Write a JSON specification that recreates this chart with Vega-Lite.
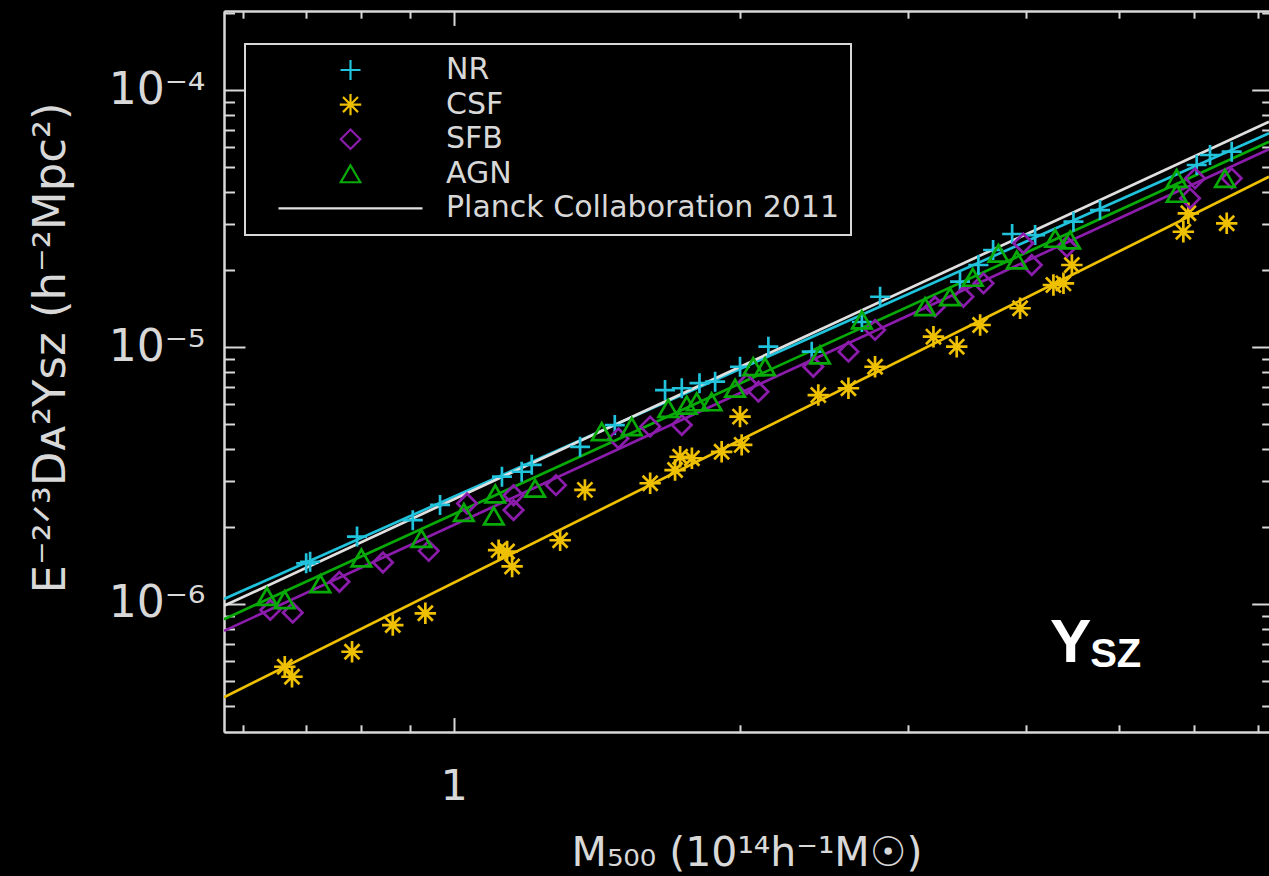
{
  "$schema": "https://vega.github.io/schema/vega-lite/v6.json",
  "width": 1045,
  "height": 721,
  "autosize": {"type": "none"},
  "padding": {"left": 224, "top": 11, "right": 0, "bottom": 144},
  "background": "#000000",
  "config": {
    "view": {"stroke": null},
    "font": "DejaVu Sans",
    "axis": {
      "grid": false,
      "domainColor": "#d8d8d8",
      "domainWidth": 2,
      "tickColor": "#d8d8d8",
      "tickWidth": 2,
      "labelColor": "#d8d8d8",
      "titleColor": "#d8d8d8",
      "labelFont": "DejaVu Sans",
      "titleFont": "DejaVu Sans",
      "titleFontWeight": "normal",
      "labelOverlap": false,
      "labelFlush": false
    },
    "legend": {
      "strokeWidth": 2
    }
  },
  "datasets": {
    "clusters": [
      {"series": "NR", "M": 0.6998, "Y": 1.44e-6},
      {"series": "NR", "M": 0.7065, "Y": 1.46e-6},
      {"series": "NR", "M": 0.7915, "Y": 1.83e-6},
      {"series": "NR", "M": 0.9058, "Y": 2.12e-6},
      {"series": "NR", "M": 0.9676, "Y": 2.43e-6},
      {"series": "NR", "M": 1.124, "Y": 3.13e-6},
      {"series": "NR", "M": 1.179, "Y": 3.27e-6},
      {"series": "NR", "M": 1.208, "Y": 3.48e-6},
      {"series": "NR", "M": 1.358, "Y": 4.09e-6},
      {"series": "NR", "M": 1.477, "Y": 4.97e-6},
      {"series": "NR", "M": 1.668, "Y": 6.80e-6},
      {"series": "NR", "M": 1.737, "Y": 6.91e-6},
      {"series": "NR", "M": 1.813, "Y": 7.23e-6},
      {"series": "NR", "M": 1.883, "Y": 7.33e-6},
      {"series": "NR", "M": 2.000, "Y": 8.38e-6},
      {"series": "NR", "M": 2.142, "Y": 1.003e-5},
      {"series": "NR", "M": 2.379, "Y": 9.59e-6},
      {"series": "NR", "M": 2.686, "Y": 1.251e-5},
      {"series": "NR", "M": 2.807, "Y": 1.569e-5},
      {"series": "NR", "M": 3.406, "Y": 1.795e-5},
      {"series": "NR", "M": 3.561, "Y": 2.085e-5},
      {"series": "NR", "M": 3.690, "Y": 2.385e-5},
      {"series": "NR", "M": 3.864, "Y": 2.753e-5},
      {"series": "NR", "M": 4.085, "Y": 2.727e-5},
      {"series": "NR", "M": 4.482, "Y": 3.073e-5},
      {"series": "NR", "M": 4.780, "Y": 3.412e-5},
      {"series": "NR", "M": 6.040, "Y": 5.107e-5},
      {"series": "NR", "M": 6.238, "Y": 5.586e-5},
      {"series": "NR", "M": 6.574, "Y": 5.754e-5},

      {"series": "CSF", "M": 0.6645, "Y": 5.70e-7},
      {"series": "CSF", "M": 0.6762, "Y": 5.21e-7},
      {"series": "CSF", "M": 0.7820, "Y": 6.52e-7},
      {"series": "CSF", "M": 0.8630, "Y": 8.28e-7},
      {"series": "CSF", "M": 0.9338, "Y": 9.20e-7},
      {"series": "CSF", "M": 1.115, "Y": 1.62e-6},
      {"series": "CSF", "M": 1.138, "Y": 1.60e-6},
      {"series": "CSF", "M": 1.152, "Y": 1.40e-6},
      {"series": "CSF", "M": 1.294, "Y": 1.77e-6},
      {"series": "CSF", "M": 1.374, "Y": 2.78e-6},
      {"series": "CSF", "M": 1.609, "Y": 2.95e-6},
      {"series": "CSF", "M": 1.709, "Y": 3.32e-6},
      {"series": "CSF", "M": 1.730, "Y": 3.74e-6},
      {"series": "CSF", "M": 1.780, "Y": 3.69e-6},
      {"series": "CSF", "M": 1.913, "Y": 3.91e-6},
      {"series": "CSF", "M": 2.008, "Y": 4.16e-6},
      {"series": "CSF", "M": 2.000, "Y": 5.36e-6},
      {"series": "CSF", "M": 2.417, "Y": 6.50e-6},
      {"series": "CSF", "M": 2.600, "Y": 6.91e-6},
      {"series": "CSF", "M": 2.773, "Y": 8.38e-6},
      {"series": "CSF", "M": 3.194, "Y": 1.097e-5},
      {"series": "CSF", "M": 3.379, "Y": 1.003e-5},
      {"series": "CSF", "M": 3.576, "Y": 1.218e-5},
      {"series": "CSF", "M": 3.939, "Y": 1.415e-5},
      {"series": "CSF", "M": 4.270, "Y": 1.743e-5},
      {"series": "CSF", "M": 4.375, "Y": 1.769e-5},
      {"series": "CSF", "M": 4.465, "Y": 2.085e-5},
      {"series": "CSF", "M": 5.848, "Y": 2.809e-5},
      {"series": "CSF", "M": 5.919, "Y": 3.313e-5},
      {"series": "CSF", "M": 6.495, "Y": 3.029e-5},

      {"series": "SFB", "M": 0.6416, "Y": 9.48e-7},
      {"series": "SFB", "M": 0.6774, "Y": 9.25e-7},
      {"series": "SFB", "M": 0.7585, "Y": 1.22e-6},
      {"series": "SFB", "M": 0.8427, "Y": 1.45e-6},
      {"series": "SFB", "M": 0.9415, "Y": 1.61e-6},
      {"series": "SFB", "M": 1.033, "Y": 2.46e-6},
      {"series": "SFB", "M": 1.156, "Y": 2.65e-6},
      {"series": "SFB", "M": 1.156, "Y": 2.32e-6},
      {"series": "SFB", "M": 1.281, "Y": 2.90e-6},
      {"series": "SFB", "M": 1.490, "Y": 4.41e-6},
      {"series": "SFB", "M": 1.609, "Y": 4.90e-6},
      {"series": "SFB", "M": 1.737, "Y": 4.97e-6},
      {"series": "SFB", "M": 2.033, "Y": 7.18e-6},
      {"series": "SFB", "M": 2.091, "Y": 6.70e-6},
      {"series": "SFB", "M": 2.388, "Y": 8.38e-6},
      {"series": "SFB", "M": 2.600, "Y": 9.59e-6},
      {"series": "SFB", "M": 2.773, "Y": 1.165e-5},
      {"series": "SFB", "M": 3.206, "Y": 1.435e-5},
      {"series": "SFB", "M": 3.434, "Y": 1.569e-5},
      {"series": "SFB", "M": 3.605, "Y": 1.769e-5},
      {"series": "SFB", "M": 3.970, "Y": 2.532e-5},
      {"series": "SFB", "M": 4.052, "Y": 2.085e-5},
      {"series": "SFB", "M": 4.411, "Y": 2.456e-5},
      {"series": "SFB", "M": 5.943, "Y": 3.789e-5},
      {"series": "SFB", "M": 6.016, "Y": 4.532e-5},
      {"series": "SFB", "M": 6.574, "Y": 4.532e-5},

      {"series": "AGN", "M": 0.6365, "Y": 1.07e-6},
      {"series": "AGN", "M": 0.6645, "Y": 1.04e-6},
      {"series": "AGN", "M": 0.7243, "Y": 1.20e-6},
      {"series": "AGN", "M": 0.7998, "Y": 1.51e-6},
      {"series": "AGN", "M": 0.9248, "Y": 1.80e-6},
      {"series": "AGN", "M": 1.025, "Y": 2.27e-6},
      {"series": "AGN", "M": 1.102, "Y": 2.20e-6},
      {"series": "AGN", "M": 1.106, "Y": 2.68e-6},
      {"series": "AGN", "M": 1.218, "Y": 2.82e-6},
      {"series": "AGN", "M": 1.431, "Y": 4.68e-6},
      {"series": "AGN", "M": 1.539, "Y": 4.90e-6},
      {"series": "AGN", "M": 1.681, "Y": 5.77e-6},
      {"series": "AGN", "M": 1.758, "Y": 5.94e-6},
      {"series": "AGN", "M": 1.801, "Y": 6.12e-6},
      {"series": "AGN", "M": 1.867, "Y": 6.12e-6},
      {"series": "AGN", "M": 1.976, "Y": 6.91e-6},
      {"series": "AGN", "M": 2.065, "Y": 8.38e-6},
      {"series": "AGN", "M": 2.125, "Y": 8.38e-6},
      {"series": "AGN", "M": 2.427, "Y": 9.31e-6},
      {"series": "AGN", "M": 2.686, "Y": 1.274e-5},
      {"series": "AGN", "M": 3.130, "Y": 1.435e-5},
      {"series": "AGN", "M": 3.325, "Y": 1.569e-5},
      {"series": "AGN", "M": 3.513, "Y": 1.867e-5},
      {"series": "AGN", "M": 3.738, "Y": 2.316e-5},
      {"series": "AGN", "M": 3.908, "Y": 2.181e-5},
      {"series": "AGN", "M": 4.288, "Y": 2.648e-5},
      {"series": "AGN", "M": 4.446, "Y": 2.608e-5},
      {"series": "AGN", "M": 5.754, "Y": 4.532e-5},
      {"series": "AGN", "M": 5.754, "Y": 3.963e-5},
      {"series": "AGN", "M": 6.468, "Y": 4.532e-5}
    ],
    "fits": [
      {"series": "NR", "M": 0.5736, "Y": 1.045e-6},
      {"series": "NR", "M": 7.195, "Y": 6.785e-5},
      {"series": "CSF", "M": 0.5736, "Y": 4.335e-7},
      {"series": "CSF", "M": 7.195, "Y": 4.60e-5},
      {"series": "SFB", "M": 0.5736, "Y": 7.86e-7},
      {"series": "SFB", "M": 7.195, "Y": 5.88e-5},
      {"series": "AGN", "M": 0.5736, "Y": 8.73e-7},
      {"series": "AGN", "M": 7.195, "Y": 6.29e-5},
      {"series": "Planck Collaboration 2011", "M": 0.5736, "Y": 9.84e-7},
      {"series": "Planck Collaboration 2011", "M": 7.195, "Y": 7.526e-5}
    ],
    "tagMain": [{"text": "Y", "M": 4.235, "Y": 5.95e-7}],
    "tagSub": [{"text": "SZ", "M": 4.667, "Y": 5.69e-7}]
  },
  "resolve": {"axis": {"x": "independent", "y": "independent"}},
  "layer": [
    {
      "data": {"name": "fits"},
      "mark": {"type": "line", "strokeWidth": 2.7, "clip": true},
      "encoding": {
        "x": {
          "field": "M", "type": "quantitative",
          "scale": {"type": "log", "domain": [0.5736, 7.195], "nice": false},
          "axis": {"orient": "bottom", "values": [0.6, 0.7, 0.8, 0.9, 2, 3, 4, 5, 6, 7], "tickSize": -7.2, "labels": false, "title": null, "domain": true}
        },
        "y": {
          "field": "Y", "type": "quantitative",
          "scale": {"type": "log", "domain": [3.176e-7, 2.03e-4], "nice": false},
          "axis": {"orient": "left", "values": [4e-7, 5e-7, 6e-7, 7e-7, 8e-7, 9e-7, 2e-6, 3e-6, 4e-6, 5e-6, 6e-6, 7e-6, 8e-6, 9e-6, 2e-5, 3e-5, 4e-5, 5e-5, 6e-5, 7e-5, 8e-5, 9e-5, 2e-4], "tickSize": -10.5, "labels": false, "title": null, "domain": true}
        },
        "color": {
          "field": "series", "type": "nominal",
          "scale": {"domain": ["NR", "CSF", "SFB", "AGN", "Planck Collaboration 2011"], "range": ["#20c2dc", "#efc000", "#8c1cac", "#08aa08", "#e0e0e0"]}
        }
      }
    },
    {
      "data": {"name": "clusters"},
      "mark": {"type": "point", "filled": false, "strokeWidth": 2.7, "opacity": 1, "clip": true},
      "encoding": {
        "x": {
          "field": "M", "type": "quantitative",
          "scale": {"type": "log", "domain": [0.5736, 7.195], "nice": false},
          "axis": {"orient": "bottom", "values": [1], "tickSize": -14.4, "labelExpr": "'1'", "labelFontSize": 43, "labelPadding": 48, "title": "M₅₀₀  (10¹⁴h⁻¹M☉)", "titleFontSize": 41, "titlePadding": 25, "domain": true}
        },
        "y": {
          "field": "Y", "type": "quantitative",
          "scale": {"type": "log", "domain": [3.176e-7, 2.03e-4], "nice": false},
          "axis": {"orient": "left", "values": [1e-6, 1e-5, 1e-4], "tickSize": -21, "labelExpr": "datum.value < 5e-6 ? '10⁻⁶' : datum.value < 5e-5 ? '10⁻⁵' : '10⁻⁴'", "labelFontSize": 44, "labelPadding": 40, "labelBaseline": "middle", "title": "E⁻²ᐟ³Dᴀ²Yꜱᴢ  (h⁻²Mpc²)", "titleFontSize": 45, "titlePadding": 35, "titleY": 336.5, "domain": true}
        },
        "color": {
          "field": "series", "type": "nominal",
          "scale": {"domain": ["NR", "CSF", "SFB", "AGN", "Planck Collaboration 2011"], "range": ["#20c2dc", "#efc000", "#8c1cac", "#08aa08", "#e0e0e0"]},
          "legend": {
            "title": null,
            "orient": "none",
            "legendX": 21,
            "legendY": 33,
            "padding": 11,
            "strokeColor": "#d8d8d8",
            "fillColor": "#000000",
            "labelFont": "DejaVu Sans",
            "labelFontSize": 30,
            "labelColor": "#d8d8d8",
            "labelOffset": 22,
            "labelLimit": 0,
            "symbolOffset": 21,
            "clipHeight": 30,
            "rowPadding": 4.6,
            "symbolStrokeWidth": 2.2
          }
        },
        "shape": {
          "field": "series", "type": "nominal",
          "scale": {"domain": ["NR", "CSF", "SFB", "AGN", "Planck Collaboration 2011"], "range": ["M-1,0L1,0M0,-1L0,1", "M-1,0L1,0M0,-1L0,1M-0.7,-0.7L0.7,0.7M-0.7,0.7L0.7,-0.7", "diamond", "triangle-up", "stroke"]},
          "legend": {"title": null}
        },
        "size": {
          "field": "series", "type": "nominal",
          "scale": {"type": "ordinal", "domain": ["NR", "CSF", "SFB", "AGN", "Planck Collaboration 2011"], "range": [400, 460, 380, 380, 20736]},
          "legend": {"title": null}
        }
      }
    },
    {
      "data": {"name": "tagMain"},
      "mark": {"type": "text", "font": "Liberation Sans", "fontWeight": "bold", "fontSize": 62, "align": "left", "baseline": "alphabetic", "color": "#ffffff"},
      "encoding": {
        "text": {"field": "text"},
        "x": {
          "field": "M", "type": "quantitative",
          "scale": {"type": "log", "domain": [0.5736, 7.195], "nice": false},
          "axis": {"orient": "top", "values": [1], "tickSize": -14.4, "labels": false, "title": null, "domain": true}
        },
        "y": {
          "field": "Y", "type": "quantitative",
          "scale": {"type": "log", "domain": [3.176e-7, 2.03e-4], "nice": false},
          "axis": {"orient": "right", "values": [1e-6, 1e-5, 1e-4], "tickSize": -17.3, "labels": false, "title": null, "domain": false}
        }
      }
    },
    {
      "data": {"name": "tagSub"},
      "mark": {"type": "text", "font": "Liberation Sans", "fontWeight": "bold", "fontSize": 40, "align": "left", "baseline": "alphabetic", "color": "#ffffff"},
      "encoding": {
        "text": {"field": "text"},
        "x": {
          "field": "M", "type": "quantitative",
          "scale": {"type": "log", "domain": [0.5736, 7.195], "nice": false},
          "axis": {"orient": "top", "values": [0.6, 0.7, 0.8, 0.9, 2, 3, 4, 5, 6, 7], "tickSize": -7.2, "labels": false, "title": null, "domain": true}
        },
        "y": {
          "field": "Y", "type": "quantitative",
          "scale": {"type": "log", "domain": [3.176e-7, 2.03e-4], "nice": false},
          "axis": {"orient": "right", "values": [4e-7, 5e-7, 6e-7, 7e-7, 8e-7, 9e-7, 2e-6, 3e-6, 4e-6, 5e-6, 6e-6, 7e-6, 8e-6, 9e-6, 2e-5, 3e-5, 4e-5, 5e-5, 6e-5, 7e-5, 8e-5, 9e-5, 2e-4], "tickSize": -7.3, "labels": false, "title": null, "domain": false}
        }
      }
    }
  ]
}
